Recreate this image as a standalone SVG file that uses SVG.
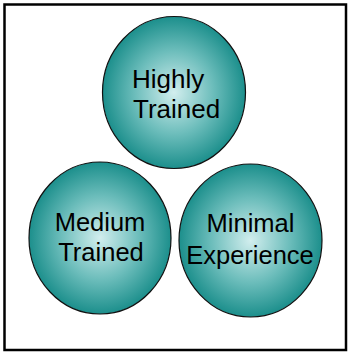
<svg xmlns="http://www.w3.org/2000/svg" width="349" height="353" viewBox="0 0 349 353">
<style>
.b{stroke:#111;stroke-width:1.2;fill:url(#g)}
.t{font-family:"Liberation Sans",Arial,sans-serif;font-size:25.5px;fill:#000}
</style>
<defs>
<radialGradient id="g" cx="50%" cy="50%" r="50%">
<stop offset="0" stop-color="#d2eeee"/>
<stop offset="0.55" stop-color="#6cbdbb"/>
<stop offset="1" stop-color="#1c8f8c"/>
</radialGradient>
</defs>
<rect x="4.5" y="4.5" width="341.5" height="345.5" fill="#fff" stroke="#000" stroke-width="2.5"/>
<g id="connectors"/>
<g id="highly">
<ellipse class="b" cx="174" cy="92.5" rx="71.5" ry="76"/>
<text class="t" x="132" y="87.5" style="font-size:26px">Highly</text>
<text class="t" x="133" y="117.5" style="font-size:26px">Trained</text>
</g>
<g id="medium">
<ellipse class="b" cx="100" cy="238" rx="71" ry="76"/>
<text class="t" x="100" y="231" text-anchor="middle">Medium</text>
<text class="t" x="101" y="260.5" text-anchor="middle">Trained</text>
</g>
<g id="minimal">
<ellipse class="b" cx="250.5" cy="240.5" rx="71.5" ry="76.5"/>
<text class="t" x="250.5" y="231.5" text-anchor="middle">Minimal</text>
<text class="t" x="250" y="264" text-anchor="middle">Experience</text>
</g>
</svg>
